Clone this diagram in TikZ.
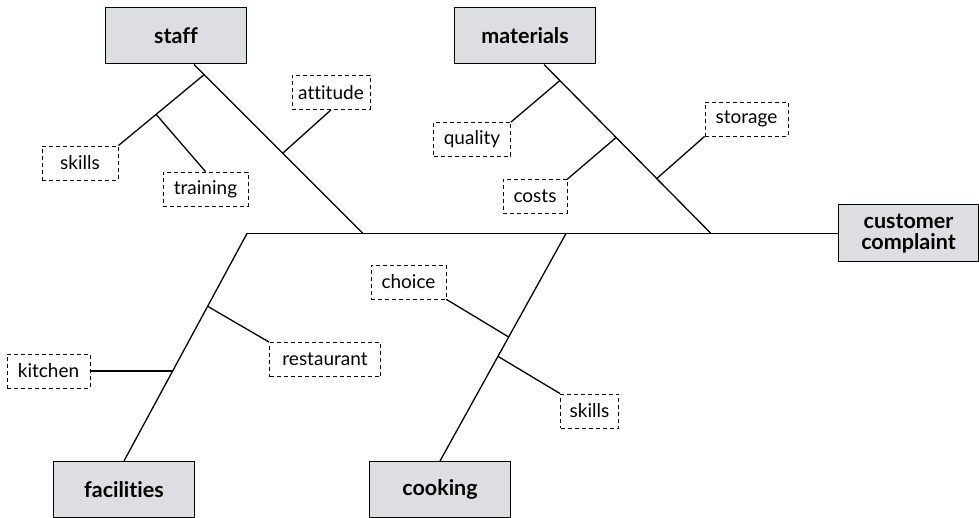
\documentclass[tikz,border=0pt]{standalone}
\usepackage{fontspec}
\setmainfont{Lato}[Ligatures=NoCommon]
\usetikzlibrary{positioning}
\definecolor{boxgray}{RGB}{221,222,225}

\begin{document}
\begin{tikzpicture}[x=1pt, y=-1pt,
    bone/.style={line width=1.3pt},
    cause/.style={draw, line width=1pt, fill=boxgray, minimum width=141pt, minimum height=56pt,
        align=center, font=\bfseries\fontsize{21.5}{21}\selectfont},
    factor/.style={draw, line width=0.8pt, dash pattern=on 4pt off 3pt, minimum height=34pt,
        inner xsep=6pt, font=\fontsize{19}{20}\selectfont}]
    \useasboundingbox (0,0) rectangle (979,518);
    % main causes and effect
    \node[cause] (staff) at (176,36) {staff};
    \node[cause] (materials) at (525,36) {materials};
    \node[cause] (facilities) at (124,489.5) {facilities};
    \node[cause] (cooking) at (440,489.5) {cooking};
    \node[cause, minimum width=140pt, minimum height=57pt, inner sep=2pt] (customer) at (908.5,233.5) {customer\\complaint};
    % sub causes
    \node[factor, minimum width=76pt] (skills) at (80,163) {skills};
    \node[factor, minimum width=85pt] (training) at (205.5,189) {training};
    \node[factor, minimum width=78pt] (attitude) at (331,92.5) {attitude};
    \node[factor, minimum width=77pt] (quality) at (472,139.5) {quality};
    \node[factor, minimum width=64pt] (costs) at (535,196.5) {costs};
    \node[factor, minimum width=83pt] (storage) at (746.5,119) {storage};
    \node[factor, minimum width=111pt] (restaurant) at (325,359.5) {restaurant};
    \node[factor, minimum width=83pt] (kitchen) at (48.5,371) {kitchen};
    \node[factor, minimum width=75pt] (choice) at (408.5,282) {choice};
    \node[factor, minimum width=58pt] (skillsb) at (589.5,411) {skills};
    % spine
    \coordinate (tail) at (247,233.5);
    \coordinate (jstaff) at (363,233.5);
    \coordinate (jmat) at (711,233.5);
    \coordinate (jcook) at (566,233.5);
    \draw[bone] (tail) -- (customer.west);
    % bones
    \draw[bone] ([xshift=18pt]staff.south) -- (jstaff)
        coordinate[pos=0.06] (st1) coordinate[pos=0.525] (st2);
    \draw[bone] (st1) -- (skills.north east) coordinate[pos=0.56] (st3);
    \draw[bone] (st3) -- (training.north);
    \draw[bone] (st2) -- (attitude.south);
    \draw[bone] ([xshift=19pt]materials.south) -- (jmat)
        coordinate[pos=0.095] (ma1) coordinate[pos=0.432] (ma2) coordinate[pos=0.675] (ma3);
    \draw[bone] (ma1) -- (quality.north east);
    \draw[bone] (ma2) -- (costs.north east);
    \draw[bone] (ma3) -- (storage.south west);
    \draw[bone] (tail) -- (facilities.north)
        coordinate[pos=0.32] (fa1) coordinate[pos=0.603] (fa2);
    \draw[bone] (fa1) -- (restaurant.north west);
    \draw[bone] (kitchen.east) -- (kitchen.east -| fa2);
    \draw[bone] (jcook) -- (cooking.north)
        coordinate[pos=0.455] (co1) coordinate[pos=0.54] (co2);
    \draw[bone] (co1) -- (choice.south east);
    \draw[bone] (co2) -- (skillsb.north west);
\end{tikzpicture}
\end{document}
